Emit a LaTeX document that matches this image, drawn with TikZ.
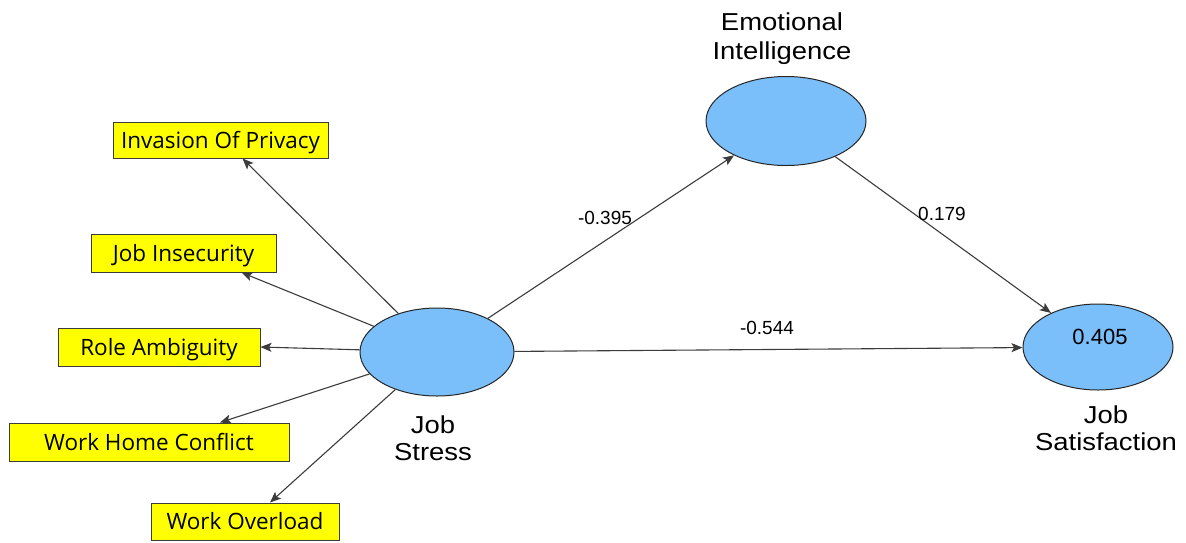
\documentclass[tikz,border=0pt]{standalone}
\usepackage{fontspec}
\setmainfont{Liberation Sans}
\newfontfamily\boxfont{Open Sans}
\newfontfamily\lblfont[FakeStretch=1.12]{Liberation Sans}
\usetikzlibrary{shapes.geometric,arrows.meta}
\definecolor{lvblue}{HTML}{7ABEFA}
\definecolor{indyellow}{HTML}{FFFF00}
\definecolor{linegray}{HTML}{3C3C3C}
\tikzset{
  indbox/.style={draw=linegray, line width=1pt, fill=indyellow, rectangle, inner sep=0pt,
    text height=16pt, text depth=0pt,
    font=\boxfont\fontsize{22.5}{24}\selectfont, text=black},
  latent/.style={draw=black!85, line width=1pt, fill=lvblue, ellipse, inner sep=0pt},
  lvlabel/.style={align=center, font=\lblfont\fontsize{24.5}{28}\selectfont, inner sep=0pt},
  coef/.style={font=\fontsize{19}{22}\selectfont, inner sep=0pt},
  conn/.style={draw=linegray, line width=1.1pt, -{Stealth[length=11pt,width=9pt,inset=2.5pt]}},
}
\begin{document}
\begin{tikzpicture}[x=1pt,y=-1pt]
\path[use as bounding box, fill=white] (0,0) rectangle (1186,542);
% indicators
\node[indbox, minimum width=215pt, minimum height=36pt] (IOP) at (220.5,140) {Invasion Of Privacy};
\node[indbox, minimum width=185pt, minimum height=38pt] (JI) at (183.5,253) {Job Insecurity};
\node[indbox, minimum width=202pt, minimum height=38pt] (RA) at (159,347) {Role Ambiguity};
\node[indbox, minimum width=280pt, minimum height=38pt] (WHC) at (149,442) {Work Home Conflict};
\node[indbox, minimum width=188pt, minimum height=37pt] (WO) at (245,521.5) {Work Overload};
% latent variables
\node[latent, minimum width=154pt, minimum height=88pt] (JS) at (437,352) {};
\node[latent, minimum width=160pt, minimum height=89pt] (EI) at (786,121) {};
\node[latent, minimum width=150pt, minimum height=86pt] (JSat) at (1098,347) {};
% latent labels
\node[lvlabel] (JSl) at (433,438) {Job\\[-1pt]Stress};
\node[lvlabel] (EIl) at (782,39) {Emotional\\[1pt]Intelligence};
\node[lvlabel] (JSatl) at (1106,428.5) {Job\\[-1pt]Satisfaction};
\node[font=\fontsize{22}{24}\selectfont, inner sep=0pt] (R2) at (1100,337) {0.405};
% outer loadings arrows
\draw[conn] (JS) -- ([xshift=22pt]IOP.south);
\draw[conn] (JS) -- ([xshift=58pt]JI.south);
\draw[conn] (JS) -- (RA.east);
\draw[conn] (JS) -- ([xshift=71pt]WHC.north);
\draw[conn] (JS) -- ([xshift=25pt]WO.north);
% structural paths
\draw[conn] (JS) -- (EI);
\draw[conn] (EI) -- (JSat);
\draw[conn] (JS) -- (JSat);
% coefficients
\node[coef] (c1) at (605,218) {-0.395};
\node[coef] (c2) at (942,214) {0.179};
\node[coef] (c3) at (767,328) {-0.544};
\end{tikzpicture}
\end{document}
